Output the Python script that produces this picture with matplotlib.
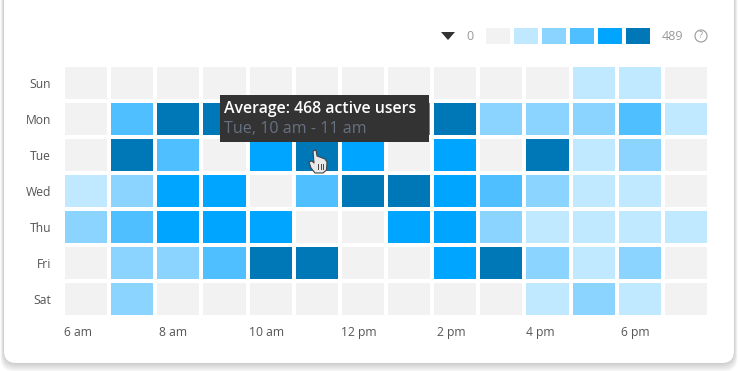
import matplotlib
matplotlib.use("Agg")
import matplotlib.pyplot as plt
import numpy as np
from matplotlib.colors import ListedColormap, BoundaryNorm
from matplotlib.patches import FancyBboxPatch, Rectangle, Circle, Polygon

plt.rcParams['font.family'] = ['Open Sans', 'DejaVu Sans']

days = ['Sun', 'Mon', 'Tue', 'Wed', 'Thu', 'Fri', 'Sat']
hour_labels = ['6 am', '8 am', '10 am', '12 pm', '2 pm', '4 pm', '6 pm']
hour_positions = [0.33, 2.38, 4.42, 6.41, 8.41, 10.34, 12.4]
levels = [
    [0, 0, 0, 0, 0, 0, 0, 0, 0, 0, 0, 1, 1, 0],
    [0, 3, 5, 5, 4, 4, 4, 4, 5, 2, 2, 2, 3, 1],
    [0, 5, 3, 0, 4, 5, 4, 0, 4, 0, 5, 1, 2, 0],
    [1, 2, 4, 4, 0, 3, 5, 5, 4, 3, 2, 1, 1, 0],
    [2, 3, 4, 4, 4, 0, 0, 4, 4, 2, 1, 1, 1, 1],
    [0, 2, 2, 3, 5, 5, 0, 0, 4, 5, 2, 1, 2, 0],
    [0, 2, 0, 0, 0, 0, 0, 0, 0, 0, 1, 2, 1, 0],
]
palette = ['#F2F2F2', '#C0E8FF', '#8AD4FF', '#4FBFFF', '#00A5FF', '#0077B6']
legend_levels = [0, 1, 2, 3, 4, 5]
legend_min = '0'
legend_max = '489'
tip_title = 'Average: 468 active users'
tip_sub = 'Tue, 10 am - 11 am'

W, H = 738, 371
fig = plt.figure(figsize=(W / 100, H / 100), dpi=100, facecolor='white')
px = 72 / 100

# background card
bg = fig.add_axes([0, 0, 1, 1], zorder=0)
bg.set_xlim(0, W); bg.set_ylim(H, 0); bg.axis('off')
for i in range(10, 0, -1):
    bg.add_patch(FancyBboxPatch((4 - i * .35, -20), 730 + i * .7, 383 + i * .9,
                                boxstyle='round,pad=0,rounding_size=14',
                                fc='black', ec='none', alpha=0.018))
bg.add_patch(FancyBboxPatch((4, -20), 730, 383, boxstyle='round,pad=0,rounding_size=12',
                            fc='white', ec='none'))

# heatmap
ax = fig.add_axes([63 / W, 1 - 317 / H, 646 / W, 252 / H], zorder=1)
ax.patch.set_alpha(0)
cmap = ListedColormap(palette)
norm = BoundaryNorm(np.arange(-0.5, 6.5), cmap.N)
ax.pcolormesh(np.array(levels), cmap=cmap, norm=norm, edgecolors='white', linewidth=4 * px)
ax.set_xlim(0, 14); ax.set_ylim(7, 0)
ax.set_yticks(np.arange(7) + 0.5, days)
ax.set_xticks(hour_positions, hour_labels)
ax.tick_params(length=0, labelsize=8.7, labelcolor='#555555')
ax.tick_params(axis='y', pad=8.6)
ax.tick_params(axis='x', pad=6.5)
for s in ax.spines.values():
    s.set_visible(False)

# overlay: legend, tooltip, cursor
ov = fig.add_axes([0, 0, 1, 1], zorder=2)
ov.set_xlim(0, W); ov.set_ylim(H, 0); ov.axis('off')
ov.add_patch(Polygon([(441, 32), (455, 32), (448, 40)], fc='#333333', ec='none'))
ov.text(470, 36.5, legend_min, ha='center', va='center', fontsize=9, color='#999999')
for k, lv in enumerate(legend_levels):
    ov.add_patch(Rectangle((486 + 28 * k, 28), 24, 16, fc=palette[lv], ec='none'))
ov.text(672.5, 36.5, legend_max, ha='center', va='center', fontsize=9, color='#999999')
ov.add_patch(Circle((701, 36), 6, fc='none', ec='#999999', lw=0.8))
ov.text(701, 36, '?', ha='center', va='center', fontsize=6.5, color='#999999')

ov.add_patch(Rectangle((220, 95), 209, 47, fc='#333333', ec='none'))
ov.text(224, 109, tip_title, ha='left', va='center', fontsize=11.4, color='white', fontweight='semibold')
ov.text(224, 129, tip_sub, ha='left', va='center', fontsize=11.6, color='#667080')

hand = [(313, 151), (316, 150), (317, 156), (325, 159), (327, 162), (326.5, 170), (323, 173),
        (315, 173), (311, 168), (309, 162), (312, 161), (314, 163)]
ov.add_patch(Polygon(hand, fc='#E9E9E9', ec='#444444', lw=0.8, joinstyle='round'))
for x in (318, 320.5, 323):
    ov.plot([x, x], [164, 169], color='#444444', lw=0.7)

fig.savefig('out.png', dpi=100, facecolor='white')
